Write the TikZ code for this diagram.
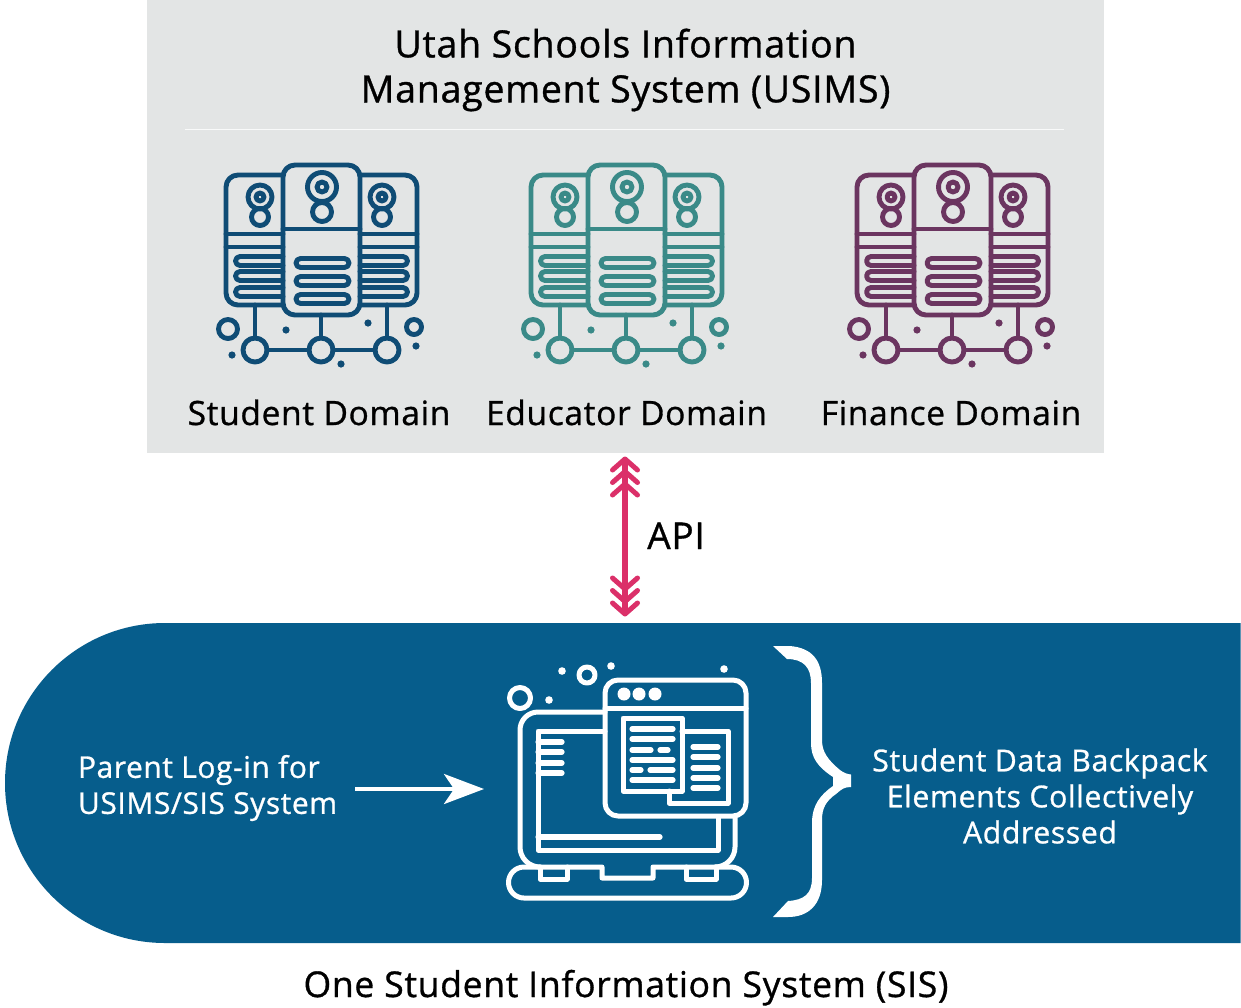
\documentclass[tikz,border=0pt]{standalone}
\usepackage{fontspec}
\setmainfont{Open Sans}[FakeBold=0.9,LetterSpace=2]
\usetikzlibrary{arrows.meta}
\definecolor{boxgray}{HTML}{E3E5E5}
\definecolor{sisblue}{HTML}{065D8C}
\definecolor{iconblue}{HTML}{0F4C75}
\definecolor{iconteal}{HTML}{3A8A88}
\definecolor{iconpurple}{HTML}{6B3560}
\definecolor{apipink}{HTML}{DB3069}
\tikzset{
  titlelabel/.style={font=\fontsize{37.5}{45}\selectfont,align=center,text=black},
  domlabel/.style={font=\fontsize{33.5}{40}\selectfont,anchor=base,text=black},
  sislabel/.style={font=\fontsize{30.2}{36}\selectfont,align=center,text=white},
  iconline/.style={line width=4.9pt,line join=round,line cap=round},
  lapline/.style={line width=5pt,white,line join=round,line cap=round},
  lapthin/.style={line width=5.2pt,white,line cap=round},
  chevron/.tip={Straight Barb[length=11pt,width=25pt,line width=5pt,round,sep=-3.5pt]},
}
% server-rack icon, origin at the icon's top-left reference point
\newcommand{\servericon}[2]{%
\begin{scope}[shift={(#1,150)},iconline,draw=#2,#2]
  \draw (83,25) -- (38,25) arc[start angle=-90,end angle=-180,radius=12] -- (26,143) arc[start angle=-180,end angle=-270,radius=12] -- (83,155);
  \draw (160,25) -- (205,25) arc[start angle=-90,end angle=0,radius=12] -- (217,143) arc[start angle=0,end angle=90,radius=12] -- (160,155);
  \draw[rounded corners=12pt] (83,15) rectangle (160,165);
  \draw (83,79) -- (160,79);
  \draw (26,84) -- (83,84) (26,97) -- (83,97) (160,84) -- (217,84) (160,97) -- (217,97);
  \draw (60,47) circle[radius=12] (60,47) circle[radius=4] (60,67) circle[radius=8.5];
  \draw (182,47) circle[radius=12] (182,47) circle[radius=4] (182,67) circle[radius=8.5];
  \draw (122,37) circle[radius=14.5] (122,37) circle[radius=5] (122,62) circle[radius=9.5];
  \foreach \y in {111,126,142} {
    \draw (83,\y-4.5) -- (40,\y-4.5) arc[start angle=-90,end angle=-270,radius=4.5] -- (83,\y+4.5);
    \draw (160,\y-4.5) -- (203,\y-4.5) arc[start angle=-90,end angle=90,radius=4.5] -- (160,\y+4.5);
  }
  \foreach \y in {113,131,149}
    \draw[rounded corners=4.5pt] (96,\y-4.5) rectangle (149,\y+4.5);
  \draw (55,155) -- (55,188) (121,165) -- (121,188) (187,155) -- (187,188);
  \draw (55,200) circle[radius=12] (121,200) circle[radius=12] (187,200) circle[radius=12];
  \draw (67,200) -- (109,200) (133,200) -- (175,200);
  \draw (28,179) circle[radius=9.5] (214,177) circle[radius=7.5];
  \fill (86,180) circle[radius=3.6] (32,205) circle[radius=3.6] (168,173) circle[radius=3.6] (216,196) circle[radius=3.6] (141,214) circle[radius=3.6];
\end{scope}}
\begin{document}
\begin{tikzpicture}[x=1pt,y=-1pt]
\useasboundingbox (0,0) rectangle (1241,1007);
\fill[white] (0,0) rectangle (1241,1007);
% USIMS panel
\fill[boxgray] (147,0) rectangle (1104,453);
\draw[line width=1.8pt,white!80!boxgray] (185,129.5) -- (1064,129.5);
\node[titlelabel] (usims) at (625.5,70) {Utah Schools Information\\Management System (USIMS)};
\servericon{200}{iconblue}
\servericon{505}{iconteal}
\servericon{831}{iconpurple}
\node[domlabel] (student) at (319,425) {Student Domain};
\node[domlabel] (educator) at (626.5,425) {Educator Domain};
\node[domlabel] (finance) at (951,425) {Finance Domain};
% SIS band
\fill[sisblue] (1240.5,623) -- (165,623) arc[start angle=-90,end angle=-270,radius=160] -- (1240.5,943) -- cycle;
\node[font=\fontsize{35.5}{42}\selectfont,anchor=base] (sis) at (626,997) {One Student Information System (SIS)};
% API arrow
\coordinate (apiTop) at (625,460);
\coordinate (apiBot) at (625,613);
\draw[line width=5.4pt,apipink,{chevron[] chevron[] chevron[]}-{chevron[] chevron[] chevron[]}] (apiTop) -- (apiBot);
\node[font=\fontsize{37}{42}\selectfont,anchor=base] (api) at (676,549) {API};
% labels in the band
\node[sislabel,align=left,anchor=west,font=\fontsize{29.9}{36}\selectfont] (parent) at (74.5,788) {Parent Log-in for\\USIMS/SIS System};
\node[sislabel] (backpack) at (1040,796) {Student Data Backpack\\Elements Collectively\\Addressed};
% parent arrow
\coordinate (parentArrow) at (355,789);
\coordinate (laptopEnd) at (484,789);
\draw[line width=3.8pt,white,-{Stealth[length=40pt,width=30pt,inset=10pt]}] (parentArrow) -- (laptopEnd);
% laptop icon
\begin{scope}[shift={(490,650)}]
  \draw[lapline] (115,62) -- (48,62) arc[start angle=-90,end angle=-180,radius=18] -- (30,197) arc[start angle=-180,end angle=-270,radius=20];
  \draw[lapline] (245,167) -- (245,197) arc[start angle=0,end angle=90,radius=20];
  \draw[lapline] (34,217) -- (112,217) -- (112,228) -- (163,228) -- (163,217) -- (241,217) arc[start angle=-90,end angle=90,radius=15.5] -- (34,248) arc[start angle=90,end angle=270,radius=15.5] -- cycle;
  \draw[lapline] (50,217) -- (50,229) -- (77,229) -- (77,217) (196,217) -- (196,229) -- (226,229) -- (226,217);
  \draw[lapline] (115,81) -- (48,81) -- (48,200) -- (228,200) -- (228,167);
  \draw[lapthin] (48,187) -- (170,187);
  \foreach \y in {92,102,113,123} \draw[lapthin] (48,\y) -- (72,\y);
  \draw[lapline,rounded corners=13pt] (115,30) rectangle (256,166);
  \draw[lapline] (115,58) -- (256,58);
  \fill[white] (134,44) circle[radius=6.5] (149,44) circle[radius=6.5] (165,44) circle[radius=6.5];
  \draw[lapline] (133,68) rectangle (192,141);
  \draw[lapline] (192,81) -- (238,81) -- (238,153) -- (179,153) -- (179,141);
  \foreach \y in {79,89,110,130} \draw[lapthin] (142,\y) -- (183,\y);
  \draw[lapthin] (142,100) -- (161,100) (170,100) -- (178,100);
  \draw[lapthin] (142,120) -- (151,120) (160,120) -- (183,120);
  \foreach \y in {97,107,118,128,138} \draw[lapthin] (203,\y) -- (228,\y);
  \draw[lapline] (30,48) circle[radius=10.5] (97,25) circle[radius=8];
  \fill[white] (72,21) circle[radius=3.8] (59,50) circle[radius=3.8] (121,16) circle[radius=3.8] (234,19) circle[radius=3.8];
\end{scope}
% brace
\begin{scope}[shift={(760,640)}]
  \fill[white] (13,6) -- (30,6) .. controls (52,8) and (62,20) .. (62,43) -- (62,100)
    .. controls (62,112) and (68,120) .. (80,130) .. controls (84,133) and (87,134) .. (91,134.5)
    -- (91,147) .. controls (84,147) and (82,149) .. (76,154) .. controls (66,161) and (62,168) .. (62,180)
    -- (62,240) .. controls (62,265) and (48,277) .. (28,277) -- (13,277) -- (28,261)
    .. controls (44,260) and (52,254) .. (52,238) -- (52,180) .. controls (53,165) and (60,155) .. (73,146)
    -- (73,137) .. controls (58,127) and (51,118) .. (51,103) -- (51,43)
    .. controls (51,28) and (44,19) .. (27,19) -- cycle;
\end{scope}
\end{tikzpicture}
\end{document}
